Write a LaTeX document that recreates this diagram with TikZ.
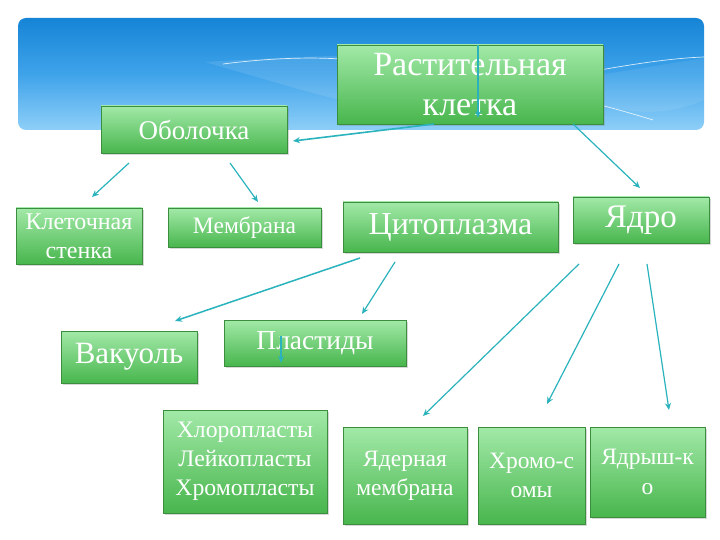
\documentclass[tikz,border=0pt]{standalone}
\usepackage{fontspec}
\setmainfont{Liberation Serif}
\usetikzlibrary{shadows,arrows.meta}
\definecolor{bantop}{HTML}{1684D6}
\definecolor{banmid}{HTML}{3FA3EA}
\definecolor{banbot}{HTML}{8ECFF8}
\definecolor{boxtop}{HTML}{A2E9A8}
\definecolor{boxbot}{HTML}{48B64D}
\definecolor{boxedge}{HTML}{3A8E3E}
\definecolor{arrcol}{HTML}{2AB3BD}
\begin{document}
\begin{tikzpicture}[x=1pt,y=-1pt,
  box/.style={draw=boxedge, line width=0.8pt, top color=boxtop, bottom color=boxbot,
    text=white, align=center, inner sep=0pt,
    drop shadow={opacity=0.3, shadow xshift=1.5pt, shadow yshift=-2pt}},
  arr/.style={draw=arrcol, line width=1.2pt, -{Stealth[length=7pt,width=6pt]}},
  swoosh/.style={draw=white, line width=0.7pt, opacity=0.8}]
\useasboundingbox (0,0) rectangle (720,540);
\fill[white] (0,0) rectangle (720,540);
% banner
\shade[top color=bantop, bottom color=banbot, middle color=banmid, rounded corners=8pt]
  (18,18) rectangle (704,130);
\fill[white, opacity=0.10] (205,62) .. controls (270,58) and (320,56) .. (340,56) -- (340,100) .. controls (300,90) and (250,75) .. cycle;
\fill[white, opacity=0.08] (600,75) -- (704,58) -- (704,100) .. controls (680,110) and (650,118) .. (600,105) -- cycle;
\draw[swoosh] (223,64) .. controls (270,58) and (310,57) .. (340,59);
\draw[swoosh] (600,70) .. controls (640,63) and (675,58) .. (704,57);
\draw[swoosh] (600,105) .. controls (620,110) and (640,116) .. (653,120);
% boxes
\node[box, minimum width=266pt, minimum height=79pt, font=\fontsize{34}{40}\selectfont]
  (ras) at (470,84.5) {Растительная\\клетка};
\node[box, minimum width=186pt, minimum height=47pt, font=\fontsize{27}{30}\selectfont]
  (obo) at (194,129.5) {Оболочка};
\node[box, minimum width=126pt, minimum height=56pt, font=\fontsize{24}{29}\selectfont]
  (kle) at (79,236) {Клеточная\\стенка};
\node[box, minimum width=153pt, minimum height=39pt, font=\fontsize{23.5}{26}\selectfont]
  (mem) at (244.5,227.5) {Мембрана};
\node[box, minimum width=215pt, minimum height=50pt, font=\fontsize{32}{34}\selectfont]
  (cit) at (450.5,227) {Цитоплазма};
\node[box, minimum width=136pt, minimum height=46pt, font=\fontsize{33}{34}\selectfont]
  (yad) at (641,220) {Ядро};
\node[box, minimum width=136pt, minimum height=52pt, font=\fontsize{31}{34}\selectfont]
  (vak) at (129,357) {Вакуоль};
\node[box, minimum width=182pt, minimum height=46pt, font=\fontsize{27.5}{30}\selectfont]
  (pla) at (315,343) {Пластиды};
\node[box, minimum width=164pt, minimum height=103pt, font=\fontsize{23.7}{29}\selectfont]
  (hlo) at (245,461.5) {Хлоропласты\\Лейкопласты\\Хромопласты};
\node[box, minimum width=124pt, minimum height=97pt, font=\fontsize{23.5}{29}\selectfont]
  (yme) at (405,475.5) {Ядерная\\мембрана};
\node[box, minimum width=107pt, minimum height=97pt, font=\fontsize{23.5}{29}\selectfont]
  (hro) at (531.5,475.5) {Хромо-с\\омы};
\node[box, minimum width=115pt, minimum height=90pt, font=\fontsize{23.5}{30}\selectfont]
  (yds) at (647.5,472) {Ядрыш-к\\о};
% connector end points
\coordinate (a1s) at (478,45);   \coordinate (a1e) at (478,118);
\coordinate (a2s) at (434,124);  \coordinate (a2e) at (293,141);
\coordinate (a3s) at (573,124);  \coordinate (a3e) at (640,188);
\coordinate (a4s) at (129,163);  \coordinate (a4e) at (92,197);
\coordinate (a5s) at (230,163);  \coordinate (a5e) at (258,202);
\coordinate (a6s) at (360,258);  \coordinate (a6e) at (175,321);
\coordinate (a7s) at (395,262);  \coordinate (a7e) at (362,314);
\coordinate (a8s) at (281,336);  \coordinate (a8e) at (281,363);
\coordinate (a9s) at (579,264);  \coordinate (a9e) at (423,416);
\coordinate (a10s) at (619,264); \coordinate (a10e) at (547,404);
\coordinate (a11s) at (647,264); \coordinate (a11e) at (669,410);
\draw[arr] (a1s) -- (a1e);
\draw[arr, line width=1.6pt] (a2s) -- (a2e);
\draw[arr] (a3s) -- (a3e);
\draw[arr] (a4s) -- (a4e);
\draw[arr] (a5s) -- (a5e);
\draw[arr, line width=1.5pt] (a6s) -- (a6e);
\draw[arr] (a7s) -- (a7e);
\draw[arr] (a8s) -- (a8e);
\draw[arr] (a9s) -- (a9e);
\draw[arr] (a10s) -- (a10e);
\draw[arr] (a11s) -- (a11e);
\end{tikzpicture}
\end{document}
